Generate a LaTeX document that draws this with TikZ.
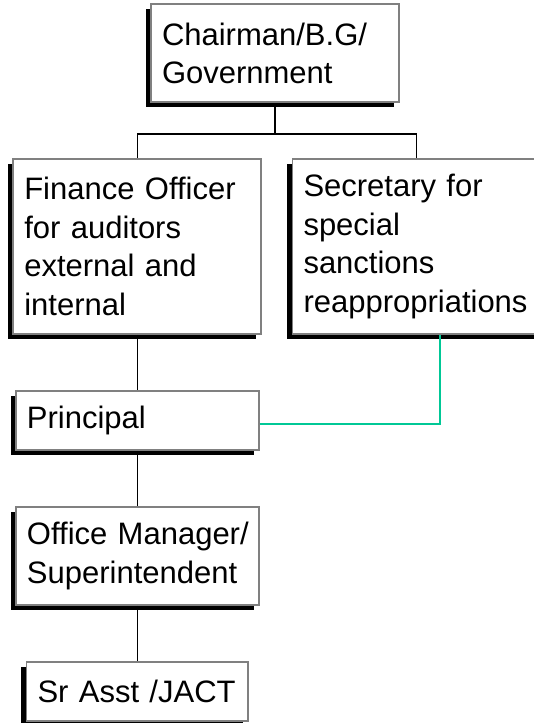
\documentclass[tikz,border=0pt]{standalone}
\usepackage{fontspec}
\setmainfont{Liberation Sans}
\usetikzlibrary{shadows}

\definecolor{linkgreen}{RGB}{0,200,150}
\newcommand{\postfont}{\fontsize{31}{38.5}\selectfont\hyphenpenalty=10000 \exhyphenpenalty=10000 }

\tikzset{
  post/.style={draw=gray, line width=1.8pt, fill=white, align=left,
    inner xsep=11pt, inner ysep=0pt, anchor=center, font=\postfont,
    drop shadow={shadow xshift=-5.5pt, shadow yshift=-5pt, fill=black, opacity=1}},
  link/.style={line width=1.6pt, black},
  greenlink/.style={line width=1.6pt, linkgreen}
}

\begin{document}
\begin{tikzpicture}[x=1pt,y=1pt]

\useasboundingbox (0,0) rectangle (533,-723);

% --- Top ---
\node[post, minimum width=248pt, minimum height=98pt, text width=226pt] (chair) at (275,-53.3)
  {Chairman/B.G/\\Government};

% --- Second row ---
\node[post, minimum width=248pt, minimum height=175pt, text width=226pt] (fin) at (137.3,-246.5)
  {Finance Officer\\for auditors\\external and\\internal};
\node[post, minimum width=248pt, minimum height=175pt, text width=226pt] (sec) at (416.5,-246.5)
  {Secretary for\\special\\sanctions\\reappropriations};

% --- Left column ---
\node[post, minimum width=243pt, minimum height=59pt, text width=221pt] (prin) at (137.5,-420.5)
  {Principal};
\node[post, minimum width=243pt, minimum height=98pt, text width=221pt] (off) at (137.5,-556)
  {\mbox{Office Manager/}\\Superintendent};
\node[post, minimum width=221.5pt, minimum height=59pt, text width=199.5pt] (sr) at (137.3,-691.2)
  {Sr Asst /JACT};

% Connectors
\draw[link] (chair.south) -- ++(0,-31) -| (fin.north);
\draw[link] (chair.south) -- ++(0,-31) -| (sec.north);

\foreach \a/\b in {fin/prin, prin/off, off/sr} {
    \draw[link] (\a.south) -- (\a.south |- \b.north);
}

\draw[greenlink] ([yshift=-3.5pt]prin.east) -| ([xshift=23.5pt]sec.south);

\end{tikzpicture}
\end{document}
